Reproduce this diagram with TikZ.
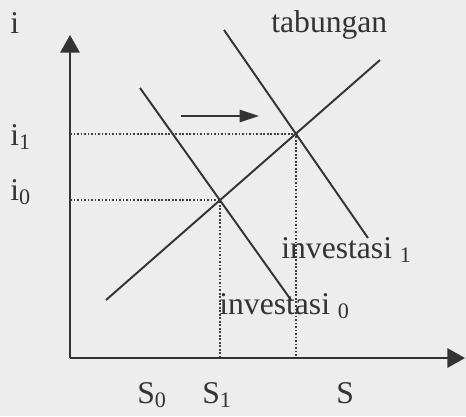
\documentclass[tikz,border=0pt]{standalone}
\usepackage{fontspec}
\setmainfont{Liberation Serif}
\usetikzlibrary{arrows.meta}

\begin{document}
\begin{tikzpicture}[x=0.02cm,y=-0.02cm,
  curve/.style={line width=1.1pt,draw=black!80},
  axis/.style={line width=1.1pt,draw=black!80,-{Triangle[length=10pt,width=11pt]}},
  guide/.style={line width=0.9pt,draw=black!75,dash pattern=on 1pt off 1pt},
  lbl/.style={inner sep=0pt,anchor=base west,text=black!80,font=\fontsize{18}{20}\selectfont}]
\fill[black!7] (0,0) rectangle (466,416);
\useasboundingbox (0,0) rectangle (466,416);
\coordinate (O) at (70,358);
\coordinate (ytip) at (70,35);
\coordinate (xtip) at (465,358);
\coordinate (t0) at (106,300);
\coordinate (t1) at (380,60);
\coordinate (a0) at (140,88);
\coordinate (a1) at (291,300);
\coordinate (b0) at (224,30);
\coordinate (b1) at (368,238);
\coordinate (E0) at (intersection of t0--t1 and a0--a1);
\coordinate (E1) at (intersection of t0--t1 and b0--b1);
\coordinate (yE0) at (O |- E0);
\coordinate (yE1) at (O |- E1);
\coordinate (xE0) at (O -| E0);
\coordinate (xE1) at (O -| E1);
\coordinate (sh0) at (181,116);
\coordinate (sh1) at (259,116);
\draw[guide] (yE1) -- (E1) -- (xE1);
\draw[guide] (yE0) -- (E0) -- (xE0);
\draw[axis] (O) -- (ytip);
\draw[axis] (O) -- (xtip);
\draw[curve] (t0) -- (t1);
\draw[curve] (a0) -- (a1);
\draw[curve] (b0) -- (b1);
\draw[curve,-{Triangle[length=11pt,width=7pt]}] (sh0) -- (sh1);
\node[lbl] (li) at (10,33) {i};
\node[lbl] (li1) at (10,145) {i\textsubscript{1}};
\node[lbl] (li0) at (10,200) {i\textsubscript{0}};
\node[lbl] (ls0) at (137,403) {S\textsubscript{0}};
\node[lbl] (ls1) at (202,403) {S\textsubscript{1}};
\node[lbl] (ls) at (336,403) {S};
\node[lbl] (ltab) at (271,32) {tabungan};
\node[lbl] (linv1) at (281,258) {investasi \textsubscript{1}};
\node[lbl] (linv0) at (219,314) {investasi \textsubscript{0}};
\end{tikzpicture}
\end{document}
